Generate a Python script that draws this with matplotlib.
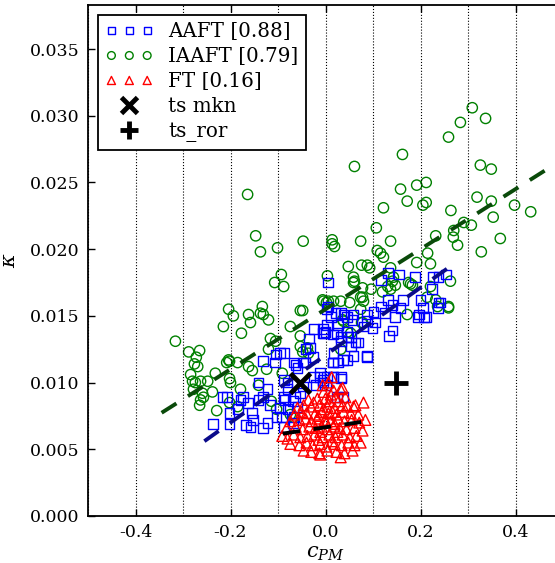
import matplotlib
matplotlib.use("Agg")
import matplotlib.pyplot as plt
import numpy as np

plt.rcParams['font.family'] = ['DejaVu Serif']
plt.rcParams['mathtext.fontset'] = 'dejavuserif'

# AAFT surrogates (c_PM, kappa)
aaft = [
    (-0.236, 0.0069), (-0.202, 0.0069), (-0.217, 0.0089), (-0.208, 0.0089), (-0.202, 0.0077),
    (-0.185, 0.0080), (-0.179, 0.0087), (-0.173, 0.0089), (-0.164, 0.0085), (-0.168, 0.0068),
    (-0.158, 0.0067), (-0.152, 0.0072), (-0.154, 0.0077), (-0.141, 0.0087), (-0.131, 0.0089),
    (-0.141, 0.0100), (-0.122, 0.0095), (-0.116, 0.0083), (-0.122, 0.0070), (-0.131, 0.0066),
    (-0.103, 0.0074), (-0.095, 0.0081), (-0.086, 0.0087), (-0.080, 0.0095), (-0.069, 0.0086),
    (-0.065, 0.0089), (-0.059, 0.0082), (-0.088, 0.0067), (-0.069, 0.0070), (-0.131, 0.0116),
    (-0.105, 0.0121), (-0.095, 0.0122), (-0.107, 0.0115), (-0.088, 0.0102), (-0.080, 0.0100),
    (-0.063, 0.0113), (-0.048, 0.0115), (-0.042, 0.0125), (-0.032, 0.0126), (-0.034, 0.0133),
    (-0.025, 0.0104), (-0.048, 0.0097), (-0.053, 0.0092), (-0.021, 0.0098), (-0.011, 0.0104),
    (-0.006, 0.0102), (0.002, 0.0098), (0.015, 0.0104), (0.032, 0.0104), (0.025, 0.0089),
    (0.038, 0.0089), (-0.025, 0.0140), (-0.006, 0.0137), (0.000, 0.0138), (0.015, 0.0136),
    (0.025, 0.0137), (0.032, 0.0131), (0.053, 0.0134), (0.017, 0.0122), (0.027, 0.0115),
    (0.015, 0.0115), (0.046, 0.0149), (0.059, 0.0151), (0.032, 0.0152), (0.004, 0.0143),
    (0.006, 0.0157), (0.006, 0.0175), (0.116, 0.0177), (0.131, 0.0182), (0.154, 0.0181),
    (0.189, 0.0179), (0.253, 0.0181), (0.238, 0.0179), (0.225, 0.0170), (0.200, 0.0162),
    (0.206, 0.0156), (0.211, 0.0149), (0.238, 0.0160), (0.194, 0.0149), (0.164, 0.0162),
    (0.158, 0.0156), (0.147, 0.0149), (0.141, 0.0158), (0.131, 0.0162), (0.116, 0.0157),
    (0.101, 0.0153), (0.126, 0.0152), (0.105, 0.0145), (0.141, 0.0139), (0.133, 0.0135),
    (0.088, 0.0151), (0.088, 0.0146), (0.080, 0.0142), (0.099, 0.0141), (0.057, 0.0147),
    (0.038, 0.0151), (0.021, 0.0152), (0.011, 0.0149), (0.004, 0.0155), (0.027, 0.0143),
    (0.046, 0.0138), (0.032, 0.0134), (0.048, 0.0134), (0.063, 0.0130), (0.088, 0.0120),
    (0.059, 0.0120), (-0.004, 0.0137), (-0.006, 0.0140), (-0.088, 0.0122), (-0.067, 0.0115),
    (-0.059, 0.0111), (-0.042, 0.0115), (-0.027, 0.0119), (-0.011, 0.0107), (0.004, 0.0104),
    (0.017, 0.0104), (0.032, 0.0103), (-0.006, 0.0100), (0.015, 0.0115), (0.036, 0.0117),
    (0.053, 0.0127), (0.069, 0.0130), (0.088, 0.0119), (0.046, 0.0117), (-0.088, 0.0089),
    (-0.080, 0.0080), (-0.091, 0.0074), (-0.067, 0.0074), (0.227, 0.0179), (0.242, 0.0160),
    (0.236, 0.0156), (0.208, 0.0149), (0.196, 0.0151),
]

# IAAFT surrogates
iaaft = [
    (0.309, 0.0306), (0.337, 0.0298), (0.284, 0.0295), (0.259, 0.0284), (0.162, 0.0271),
    (0.061, 0.0262), (0.326, 0.0263), (0.349, 0.0260), (0.212, 0.0250), (0.192, 0.0248),
    (0.158, 0.0245), (0.172, 0.0236), (0.212, 0.0235), (0.205, 0.0233), (0.122, 0.0231),
    (0.319, 0.0239), (0.349, 0.0236), (0.398, 0.0233), (0.432, 0.0228), (0.264, 0.0229),
    (0.353, 0.0224), (0.107, 0.0216), (0.291, 0.0220), (0.307, 0.0218), (0.270, 0.0214),
    (0.232, 0.0210), (0.269, 0.0209), (0.368, 0.0208), (0.278, 0.0203), (-0.047, 0.0206),
    (0.014, 0.0207), (0.014, 0.0204), (0.019, 0.0202), (0.074, 0.0206), (0.137, 0.0206),
    (0.328, 0.0198), (0.109, 0.0199), (0.116, 0.0197), (0.122, 0.0194), (0.215, 0.0197),
    (0.192, 0.0190), (0.221, 0.0189), (0.048, 0.0187), (0.076, 0.0188), (0.088, 0.0188),
    (0.093, 0.0186), (0.137, 0.0186), (0.004, 0.0180), (0.059, 0.0179), (0.061, 0.0176),
    (0.263, 0.0176), (0.078, 0.0171), (0.096, 0.0170), (0.175, 0.0175), (0.179, 0.0174),
    (0.141, 0.0176), (0.221, 0.0172), (0.214, 0.0164), (0.232, 0.0162), (0.259, 0.0157),
    (0.172, 0.0151), (-0.004, 0.0161), (0.006, 0.0161), (0.032, 0.0161), (0.051, 0.0160),
    (0.074, 0.0164), (0.036, 0.0147), (0.076, 0.0145), (-0.048, 0.0154), (0.120, 0.0168),
    (-0.164, 0.0241), (-0.147, 0.0210), (-0.137, 0.0198), (-0.101, 0.0201), (-0.093, 0.0181),
    (-0.107, 0.0175), (-0.088, 0.0172), (-0.204, 0.0155), (-0.194, 0.0150), (-0.215, 0.0142),
    (-0.177, 0.0137), (-0.162, 0.0151), (-0.158, 0.0145), (-0.133, 0.0157), (-0.137, 0.0152),
    (-0.131, 0.0151), (-0.120, 0.0147), (-0.053, 0.0154), (-0.074, 0.0142), (-0.053, 0.0135),
    (-0.116, 0.0133), (-0.105, 0.0131), (-0.120, 0.0125), (-0.316, 0.0131), (-0.288, 0.0123),
    (-0.265, 0.0124), (-0.272, 0.0119), (-0.204, 0.0117), (-0.053, 0.0127), (-0.048, 0.0123),
    (-0.038, 0.0126), (-0.276, 0.0114), (-0.269, 0.0112), (-0.284, 0.0106), (-0.280, 0.0101),
    (-0.274, 0.0100), (-0.263, 0.0101), (-0.278, 0.0095), (-0.259, 0.0092), (-0.263, 0.0087),
    (-0.257, 0.0089), (-0.248, 0.0101), (-0.232, 0.0107), (-0.238, 0.0093), (-0.229, 0.0079),
    (-0.265, 0.0083), (-0.208, 0.0115), (-0.202, 0.0116), (-0.185, 0.0115), (-0.202, 0.0103),
    (-0.200, 0.0100), (-0.162, 0.0112), (-0.154, 0.0109), (-0.179, 0.0095), (-0.202, 0.0085),
    (-0.185, 0.0082), (-0.124, 0.0110), (-0.141, 0.0098), (-0.091, 0.0107), (-0.114, 0.0086),
    (-0.103, 0.0080), (-0.036, 0.0122), (-0.074, 0.0076), (-0.067, 0.0074), (0.059, 0.0175),
    (0.143, 0.0179), (0.183, 0.0173), (0.131, 0.0172), (0.137, 0.0170), (0.147, 0.0173),
    (0.078, 0.0164), (0.080, 0.0161), (0.017, 0.0161), (0.002, 0.0160), (-0.006, 0.0162),
    (0.074, 0.0155), (0.236, 0.0157), (0.259, 0.0156), (0.038, 0.0146), (0.046, 0.0138),
    (0.053, 0.0137), (0.078, 0.0145), (0.032, 0.0125),
]

# FT surrogates
ft = [
    (0.006, 0.0100), (-0.006, 0.0098), (0.013, 0.0104),
    (0.032, 0.0095), (0.036, 0.0096), (0.017, 0.0094), (-0.004, 0.0093), (0.011, 0.0091),
    (-0.036, 0.0087), (-0.017, 0.0088), (0.000, 0.0088), (0.021, 0.0089), (0.042, 0.0089),
    (-0.025, 0.0085), (0.008, 0.0086), (0.027, 0.0086),
    (-0.059, 0.0081), (-0.046, 0.0083), (-0.030, 0.0082), (-0.013, 0.0083), (0.004, 0.0082),
    (0.019, 0.0081), (0.046, 0.0082), (0.059, 0.0082), (0.063, 0.0083), (0.080, 0.0085),
    (0.036, 0.0083), (-0.004, 0.0080),
    (-0.065, 0.0076), (-0.051, 0.0078), (-0.040, 0.0077), (-0.023, 0.0076), (-0.008, 0.0078),
    (0.006, 0.0077), (0.023, 0.0076), (0.038, 0.0078), (0.053, 0.0077), (0.069, 0.0076),
    (0.015, 0.0078), (-0.015, 0.0075),
    (-0.074, 0.0071), (-0.055, 0.0072), (-0.042, 0.0073), (-0.030, 0.0071), (-0.017, 0.0073),
    (-0.002, 0.0072), (0.011, 0.0071), (0.027, 0.0073), (0.040, 0.0071), (0.055, 0.0072),
    (0.071, 0.0070), (0.084, 0.0072), (0.002, 0.0070), (0.019, 0.0069),
    (-0.082, 0.0066), (-0.063, 0.0067), (-0.048, 0.0065), (-0.034, 0.0067), (-0.021, 0.0066),
    (-0.008, 0.0067), (0.004, 0.0065), (0.017, 0.0067), (0.030, 0.0066), (0.044, 0.0065),
    (0.061, 0.0066), (0.078, 0.0064), (-0.011, 0.0063), (0.025, 0.0063),
    (-0.091, 0.0060), (-0.080, 0.0058), (-0.067, 0.0061), (-0.053, 0.0059), (-0.038, 0.0060),
    (-0.023, 0.0061), (-0.006, 0.0059), (0.008, 0.0061), (0.021, 0.0059), (0.036, 0.0061),
    (0.051, 0.0059), (0.065, 0.0060), (-0.015, 0.0057), (0.013, 0.0056),
    (-0.074, 0.0054), (-0.055, 0.0053), (-0.040, 0.0055), (-0.027, 0.0053), (-0.011, 0.0054),
    (0.002, 0.0052), (0.019, 0.0054), (0.034, 0.0053), (0.048, 0.0055), (0.061, 0.0053),
    (0.074, 0.0055),
    (-0.046, 0.0049), (-0.030, 0.0048), (-0.013, 0.0047), (0.004, 0.0049), (0.023, 0.0048),
    (0.040, 0.0047), (0.057, 0.0049), (-0.011, 0.0046), (0.032, 0.0044),
]

# linear fits: (slope, intercept, x_start, x_end)
fit_iaaft = (0.0225, 0.0155, -0.345, 0.48)
fit_aaft = (0.0253, 0.01206, -0.255, 0.27)
fit_ft = (0.0053, 0.00665, -0.09, 0.075)

ts_mkn = (-0.053, 0.0100)
ts_ror = (0.149, 0.0100)

labels = ['AAFT [0.88]', 'IAAFT [0.79]', 'FT [0.16]', 'ts mkn', 'ts_ror']

fig = plt.figure(figsize=(5.55, 5.63), dpi=100)
ax = fig.add_axes([88 / 555, 47 / 563, 475 / 555, 511 / 563])

a = np.array(aaft)
i = np.array(iaaft)
f = np.array(ft)
ax.scatter(a[:, 0], a[:, 1], s=50, marker='s', facecolors='none', edgecolors='b',
           linewidths=1.0, label=labels[0], zorder=3)
ax.scatter(i[:, 0], i[:, 1], s=55, marker='o', facecolors='none', edgecolors='g',
           linewidths=1.0, label=labels[1], zorder=2)
ax.scatter(f[:, 0], f[:, 1], s=60, marker='^', facecolors='none', edgecolors='r',
           linewidths=1.0, label=labels[2], zorder=4)

for (m, c, x0, x1), col in [(fit_iaaft, '#0a4a0a'), (fit_aaft, '#0a0a8a'), (fit_ft, 'k')]:
    xs = np.array([x0, x1])
    ax.plot(xs, m * xs + c, color=col, lw=2.8, dashes=(4.5, 3.5), zorder=6)

ax.plot([ts_mkn[0]], [ts_mkn[1]], 'x', color='k', ms=15, mew=3.5, label=labels[3], zorder=7)
ax.plot([ts_ror[0]], [ts_ror[1]], '+', color='k', ms=17, mew=3.5, label=labels[4], zorder=7)

ax.set_xlim(-0.5, 0.5)
ax.set_ylim(0, 0.0383)
ax.set_xticks(np.arange(-0.4, 0.41, 0.2))
ax.set_xticks(np.arange(-0.5, 0.51, 0.1), minor=True)
ax.set_yticks(np.arange(0, 0.0351, 0.005))
ax.xaxis.set_major_formatter(matplotlib.ticker.FormatStrFormatter('%.1f'))
ax.yaxis.set_major_formatter(matplotlib.ticker.FormatStrFormatter('%.3f'))
ax.tick_params(which='major', direction='in', top=True, right=True, length=5, width=1,
               labelsize=12.5, pad=6)
ax.tick_params(which='minor', length=0)
ax.grid(True, which='both', axis='x', color='k', linestyle=':', linewidth=0.8)
ax.set_axisbelow(False)
for sp in ax.spines.values():
    sp.set_linewidth(1.3)

ax.set_xlabel(r'$c_{PM}$', fontsize=15, labelpad=2)
ax.set_ylabel(r'$\kappa$', fontsize=15, labelpad=8)

leg = ax.legend(loc='upper left', scatterpoints=3, scatteryoffsets=[0.5], numpoints=1,
                markerscale=0.75, fontsize=14.3, fancybox=False, edgecolor='k',
                framealpha=1, borderpad=0.38, labelspacing=0.3, handletextpad=0.75,
                handlelength=2.4, borderaxespad=0.5)
leg.get_frame().set_linewidth(1.3)

fig.savefig('out.png', dpi=100)
